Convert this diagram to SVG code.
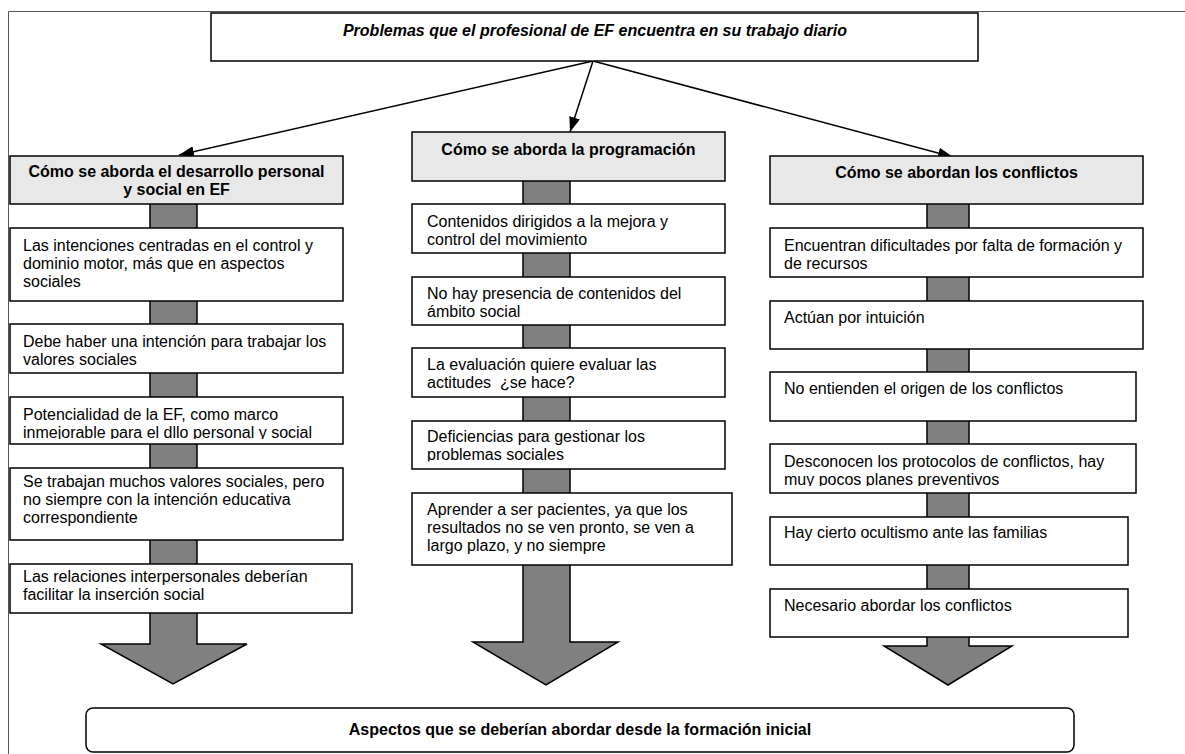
<svg xmlns="http://www.w3.org/2000/svg" width="1185" height="754" viewBox="0 0 1185 754">
<style>
.box{fill:#fff;stroke:#000;stroke-width:1.5}
.hdr{fill:#e8e8e8;stroke:#000;stroke-width:1.5}
.bar{fill:#808080;stroke:#000;stroke-width:1.5;stroke-linejoin:miter}
.t{font-family:"Liberation Sans",Arial,sans-serif;font-size:16px;fill:#000}
.b{font-weight:bold;text-anchor:middle}
.conn{stroke:#000;stroke-width:1.5;fill:none;marker-end:url(#ah)}
.frame{stroke:#555;stroke-width:1;fill:none}
</style>
<defs>
<marker id="ah" markerUnits="userSpaceOnUse" markerWidth="15" markerHeight="11" refX="15" refY="5.5" orient="auto">
<path d="M0,0 L15,5.5 L0,11 z" fill="#000"/>
</marker>
<clipPath id="c1c"><rect x="10" y="397" width="333" height="42"/></clipPath>
<clipPath id="c2d"><rect x="412" y="421" width="313" height="40.5"/></clipPath>
<clipPath id="c3d"><rect x="770" y="444" width="366" height="42"/></clipPath>
</defs>
<rect width="1185" height="754" fill="#fff"/>
<path class="frame" d="M8.5,760 V11.5 H1190"/>

<g id="connectors">
<line class="conn" x1="593" y1="61" x2="179" y2="155"/>
<line class="conn" x1="593" y1="61" x2="570" y2="132"/>
<line class="conn" x1="593" y1="61" x2="953" y2="157"/>
<rect class="bar" x="150" y="200" width="47" height="410"/>
<polygon class="bar" points="150,605 197,605 197,644 247,644 173,684 101,644 150,644"/>
<rect class="bar" x="523" y="178" width="47" height="385"/>
<polygon class="bar" points="523,560 570,560 570,642 618,642 546,685 473,642 523,642"/>
<rect class="bar" x="927" y="200" width="42" height="435"/>
<polygon class="bar" points="927,630 969,630 969,646 1012,646 948,685 884,646 927,646"/>
</g>

<g id="top">
<rect class="box" x="211" y="13" width="767" height="48"/>
<text class="t b" x="595" y="36" font-style="italic">Problemas que el profesional de EF encuentra en su trabajo diario</text>
</g>

<g id="h1">
<rect class="hdr" x="10" y="156" width="333" height="48"/>
<text class="t b" x="176.5" y="177">Cómo se aborda el desarrollo personal</text>
<text class="t b" x="176.5" y="195">y social en EF</text>
</g>
<g id="n1a">
<rect class="box" x="10" y="228" width="333" height="73"/>
<text class="t" x="23" y="251">Las intenciones centradas en el control y</text>
<text class="t" x="23" y="269">dominio motor, más que en aspectos</text>
<text class="t" x="23" y="287">sociales</text>
</g>
<g id="n1b">
<rect class="box" x="10" y="324" width="333" height="49"/>
<text class="t" x="23" y="347">Debe haber una intención para trabajar los</text>
<text class="t" x="23" y="365">valores sociales</text>
</g>
<g id="n1c">
<rect class="box" x="10" y="397" width="333" height="47"/>
<g clip-path="url(#c1c)">
<text class="t" x="23" y="420">Potencialidad de la EF, como marco</text>
<text class="t" x="23" y="438">inmejorable para el dllo personal y social</text>
</g>
</g>
<g id="n1d">
<rect class="box" x="10" y="468" width="333" height="72"/>
<text class="t" x="23" y="487">Se trabajan muchos valores sociales, pero</text>
<text class="t" x="23" y="505">no siempre con la intención educativa</text>
<text class="t" x="23" y="523">correspondiente</text>
</g>
<g id="n1e">
<rect class="box" x="10" y="564" width="342" height="49"/>
<text class="t" x="23" y="582">Las relaciones interpersonales deberían</text>
<text class="t" x="23" y="600">facilitar la inserción social</text>
</g>

<g id="h2">
<rect class="hdr" x="412" y="132" width="313" height="49"/>
<text class="t b" x="568.5" y="155">Cómo se aborda la programación</text>
</g>
<g id="n2a">
<rect class="box" x="412" y="204" width="313" height="49"/>
<text class="t" x="427" y="227">Contenidos dirigidos a la mejora y</text>
<text class="t" x="427" y="245">control del movimiento</text>
</g>
<g id="n2b">
<rect class="box" x="412" y="277" width="313" height="48"/>
<text class="t" x="427" y="299">No hay presencia de contenidos del</text>
<text class="t" x="427" y="317">ámbito social</text>
</g>
<g id="n2c">
<rect class="box" x="412" y="348" width="313" height="49"/>
<text class="t" x="427" y="370">La evaluación quiere evaluar las</text>
<text class="t" x="427" y="388">actitudes&#160; ¿se hace?</text>
</g>
<g id="n2d">
<rect class="box" x="412" y="421" width="313" height="48"/>
<g clip-path="url(#c2d)">
<text class="t" x="427" y="442">Deficiencias para gestionar los</text>
<text class="t" x="427" y="460">problemas sociales</text>
</g>
</g>
<g id="n2e">
<rect class="box" x="412" y="493" width="320" height="72"/>
<text class="t" x="427" y="515">Aprender a ser pacientes, ya que los</text>
<text class="t" x="427" y="533">resultados no se ven pronto, se ven a</text>
<text class="t" x="427" y="551">largo plazo, y no siempre</text>
</g>

<g id="h3">
<rect class="hdr" x="770" y="156" width="373" height="48"/>
<text class="t b" x="956.5" y="178">Cómo se abordan los conflictos</text>
</g>
<g id="n3a">
<rect class="box" x="770" y="228" width="373" height="49"/>
<text class="t" x="784" y="251">Encuentran dificultades por falta de formación y</text>
<text class="t" x="784" y="269">de recursos</text>
</g>
<g id="n3b">
<rect class="box" x="770" y="301" width="373" height="48"/>
<text class="t" x="784" y="323">Actúan por intuición</text>
</g>
<g id="n3c">
<rect class="box" x="770" y="372" width="366" height="49"/>
<text class="t" x="784" y="394">No entienden el origen de los conflictos</text>
</g>
<g id="n3d">
<rect class="box" x="770" y="444" width="366" height="49"/>
<g clip-path="url(#c3d)">
<text class="t" x="784" y="467">Desconocen los protocolos de conflictos, hay</text>
<text class="t" x="784" y="485">muy pocos planes preventivos</text>
</g>
</g>
<g id="n3e">
<rect class="box" x="770" y="517" width="358" height="48"/>
<text class="t" x="784" y="538">Hay cierto ocultismo ante las familias</text>
</g>
<g id="n3f">
<rect class="box" x="770" y="589" width="358" height="48"/>
<text class="t" x="784" y="611">Necesario abordar los conflictos</text>
</g>

<g id="bottom">
<rect class="box" x="86" y="708" width="988" height="44" rx="7" ry="7"/>
<text class="t b" x="580" y="735">Aspectos que se deberían abordar desde la formación inicial</text>
</g>
</svg>
